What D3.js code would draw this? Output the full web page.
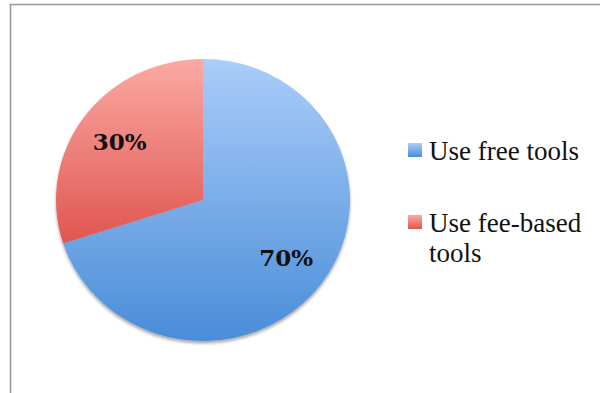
<!DOCTYPE html>
<html>
<head>
<meta charset="utf-8">
<script src="https://cdn.jsdelivr.net/npm/d3@7"></script>
<style>
  html, body { margin: 0; padding: 0; background: #fff; }
  svg { display: block; }
</style>
</head>
<body>
<svg id="chart" width="600" height="393"></svg>
<script>
// Survey shares
const categories = ["Use free tools", "Use fee-based tools"];
const values = [70, 30];
const sliceLabels = ["70%", "30%"];
const topColors = ["#aacdf9", "#fba9a4"];
const bottomColors = ["#4a8dd8", "#df5650"];

const svg = d3.select("#chart");

// Outer frame (partly clipped by the page edge)
svg.append("rect")
  .attr("x", 10.5).attr("y", 4.5)
  .attr("width", 640).attr("height", 440)
  .attr("fill", "none")
  .attr("stroke", "#9b9b9b")
  .attr("stroke-width", 1.6);

const defs = svg.append("defs");

categories.forEach((c, i) => {
  const g = defs.append("linearGradient")
    .attr("id", "grad" + i)
    .attr("x1", 0).attr("y1", 0).attr("x2", 0).attr("y2", 1);
  g.append("stop").attr("offset", "0%").attr("stop-color", topColors[i]);
  g.append("stop").attr("offset", "100%").attr("stop-color", bottomColors[i]);
});

const shadow = defs.append("filter")
  .attr("id", "shadow")
  .attr("x", "-20%").attr("y", "-20%").attr("width", "140%").attr("height", "140%");
shadow.append("feDropShadow")
  .attr("dx", 0).attr("dy", 2.5)
  .attr("stdDeviation", 1.8)
  .attr("flood-color", "#000")
  .attr("flood-opacity", 0.35);

// Pie geometry
const cx = 203, cy = 200;
const r = 147;
const sy = 141 / 147;

const pie = d3.pie().sort(null).value(d => d);
const arcs = pie(values);
const arc = d3.arc().innerRadius(0).outerRadius(r);
const labelArc = d3.arc().innerRadius(r * 0.7).outerRadius(r * 0.7);

const pieG = svg.append("g")
  .attr("transform", `translate(${cx},${cy}) scale(1,${sy})`)
  .attr("filter", "url(#shadow)");

pieG.selectAll("path")
  .data(arcs)
  .join("path")
  .attr("d", arc)
  .attr("fill", (d, i) => `url(#grad${i})`);

// Percentage labels
svg.append("g").selectAll("text")
  .data(arcs)
  .join("text")
  .attr("x", d => cx + labelArc.centroid(d)[0])
  .attr("y", d => cy + labelArc.centroid(d)[1] * sy)
  .attr("dy", "0.35em")
  .attr("text-anchor", "middle")
  .attr("font-family", "'DejaVu Serif', serif")
  .attr("font-weight", "bold")
  .attr("font-size", 23)
  .attr("fill", "#111")
  .text((d, i) => sliceLabels[i]);

// Legend
const legendX = 408, legendY = [143, 215];
const lineH = 30;
const maxTextW = 170;
const legend = svg.append("g");

categories.forEach((c, i) => {
  const g = legend.append("g").attr("transform", `translate(${legendX},${legendY[i]})`);
  g.append("rect")
    .attr("width", 14).attr("height", 14)
    .attr("fill", `url(#grad${i})`);
  const t = g.append("text")
    .attr("x", 21).attr("y", 17)
    .attr("font-family", "'Liberation Serif', serif")
    .attr("font-size", 27)
    .attr("fill", "#111");
  // wrap words into lines that fit the legend column
  const words = c.split(" ");
  let line = [];
  let tspan = t.append("tspan").attr("x", 21).attr("dy", 0);
  words.forEach(w => {
    line.push(w);
    tspan.text(line.join(" "));
    if (tspan.node().getComputedTextLength() > maxTextW && line.length > 1) {
      line.pop();
      tspan.text(line.join(" "));
      line = [w];
      tspan = t.append("tspan").attr("x", 21).attr("dy", lineH).text(w);
    }
  });
});
</script>
</body>
</html>
